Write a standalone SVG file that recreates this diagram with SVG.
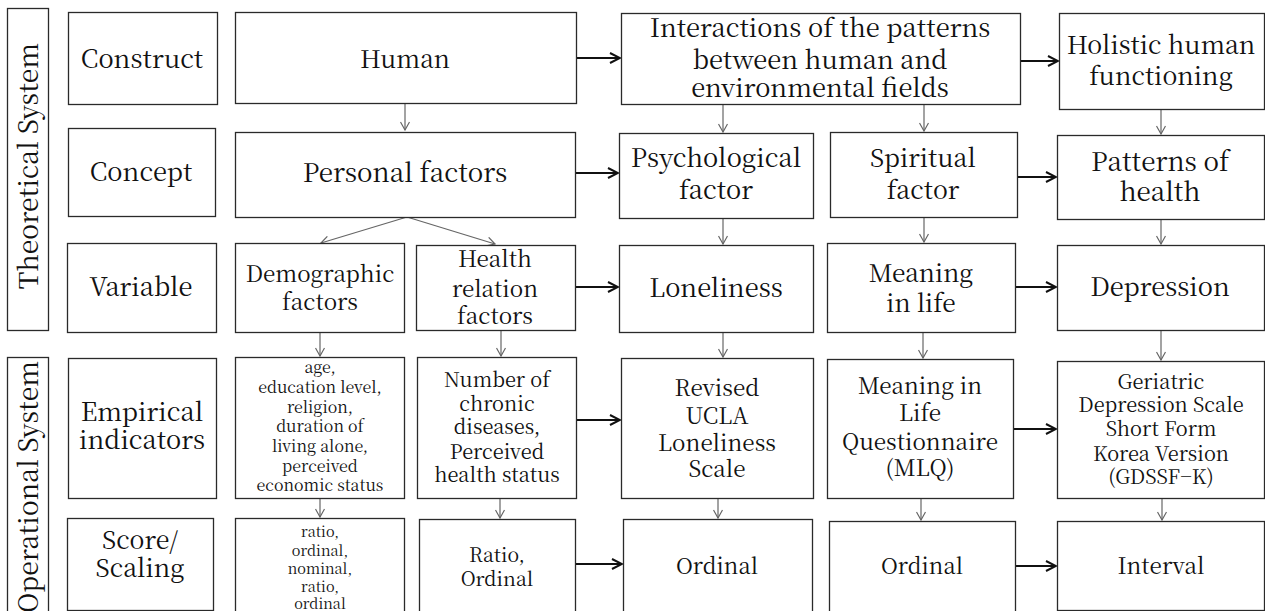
<svg xmlns="http://www.w3.org/2000/svg" width="1265" height="611" viewBox="0 0 1265 611">
<style>
  .box{fill:#fff;stroke:#2a2a2a;stroke-width:1.3}
  text{font-family:"Noto Serif CJK KR","Liberation Serif",serif;fill:#111;text-anchor:middle}
  .thick{stroke:#111;stroke-width:2.2;fill:none;marker-end:url(#ah)}
  .thin{stroke:#666;stroke-width:1.2;fill:none;marker-end:url(#at)}
</style>
<defs>
  <marker id="ah" markerUnits="userSpaceOnUse" viewBox="0 0 12 12" refX="11" refY="6" markerWidth="12" markerHeight="12" orient="auto">
    <path d="M1,1 L11,6 L1,11" fill="none" stroke="#111" stroke-width="2"/>
  </marker>
  <marker id="at" markerUnits="userSpaceOnUse" viewBox="0 0 10 10" refX="9" refY="5" markerWidth="10" markerHeight="10" orient="auto">
    <path d="M1,0.5 L9,5 L1,9.5" fill="none" stroke="#666" stroke-width="1.2"/>
  </marker>
</defs>
<rect width="1265" height="611" fill="#fff"/>

<g id="connectors">
  <line class="thick" x1="576" y1="58" x2="620" y2="58"/>
  <line class="thick" x1="1020" y1="61" x2="1058" y2="61"/>
  <line class="thick" x1="575" y1="173" x2="618" y2="173"/>
  <line class="thick" x1="1017" y1="177" x2="1056" y2="177"/>
  <line class="thick" x1="575" y1="287" x2="618" y2="287"/>
  <line class="thick" x1="1015" y1="287" x2="1056" y2="287"/>
  <line class="thick" x1="576" y1="420" x2="620" y2="420"/>
  <line class="thick" x1="1013" y1="429" x2="1056" y2="429"/>
  <line class="thick" x1="575" y1="564" x2="622" y2="564"/>
  <line class="thick" x1="1015" y1="566" x2="1056" y2="566"/>

  <line class="thin" x1="405" y1="103" x2="405" y2="130"/>
  <line class="thin" x1="723" y1="104" x2="723" y2="132"/>
  <line class="thin" x1="924" y1="104" x2="924" y2="131"/>
  <line class="thin" x1="1161" y1="109" x2="1161" y2="134"/>
  <line class="thin" x1="407" y1="217" x2="321" y2="243"/>
  <line class="thin" x1="407" y1="217" x2="495" y2="244"/>
  <line class="thin" x1="723" y1="218" x2="723" y2="244"/>
  <line class="thin" x1="924" y1="217" x2="924" y2="242"/>
  <line class="thin" x1="1161" y1="219" x2="1161" y2="244"/>
  <line class="thin" x1="320" y1="332" x2="320" y2="356"/>
  <line class="thin" x1="501" y1="330" x2="501" y2="356"/>
  <line class="thin" x1="723" y1="332" x2="723" y2="357"/>
  <line class="thin" x1="923" y1="332" x2="923" y2="358"/>
  <line class="thin" x1="1161" y1="330" x2="1161" y2="360"/>
  <line class="thin" x1="320" y1="498" x2="320" y2="517"/>
  <line class="thin" x1="500" y1="498" x2="500" y2="518"/>
  <line class="thin" x1="718" y1="498" x2="718" y2="518"/>
  <line class="thin" x1="921" y1="498" x2="921" y2="520"/>
  <line class="thin" x1="1162" y1="498" x2="1162" y2="520"/>
</g>

<g id="theoretical-system">
  <rect class="box" x="7.5" y="8.5" width="41" height="322"/>
  <text font-size="26.5" transform="translate(38,166) rotate(-90)">Theoretical System</text>
</g>
<g id="operational-system">
  <rect class="box" x="7.5" y="357.5" width="41" height="270"/>
  <text font-size="26.5" transform="translate(38,487) rotate(-90)">Operational System</text>
</g>

<g id="construct">
  <rect class="box" x="68.5" y="12.5" width="149" height="92"/>
  <text font-size="25.5" x="142" y="68">Construct</text>
</g>
<g id="concept">
  <rect class="box" x="68.5" y="128.5" width="147" height="88"/>
  <text font-size="25.5" x="141" y="181">Concept</text>
</g>
<g id="variable">
  <rect class="box" x="67.5" y="243.5" width="149" height="89"/>
  <text font-size="25.5" x="141" y="296">Variable</text>
</g>
<g id="empirical">
  <rect class="box" x="68.5" y="358.5" width="148" height="140"/>
  <text font-size="25.5" x="142" y="421">Empirical</text>
  <text font-size="25.5" x="142" y="449">indicators</text>
</g>
<g id="score">
  <rect class="box" x="67.5" y="518.5" width="146" height="92"/>
  <text font-size="25" x="140" y="549">Score/</text>
  <text font-size="25" x="140" y="577">Scaling</text>
</g>

<g id="human">
  <rect class="box" x="235.5" y="12.5" width="341" height="91"/>
  <text font-size="24.5" x="405" y="68">Human</text>
</g>
<g id="interactions">
  <rect class="box" x="621.5" y="13.5" width="399" height="91"/>
  <text font-size="25.5" x="820" y="37">Interactions of the patterns</text>
  <text font-size="25.5" x="820" y="69">between human and</text>
  <text font-size="25.5" x="820" y="97">environmental fields</text>
</g>
<g id="holistic">
  <rect class="box" x="1059.5" y="13.5" width="205" height="96"/>
  <text font-size="25" x="1161" y="54">Holistic human</text>
  <text font-size="25" x="1161" y="85">functioning</text>
</g>

<g id="personal">
  <rect class="box" x="235.5" y="132.5" width="340" height="85"/>
  <text font-size="26" x="405" y="182">Personal factors</text>
</g>
<g id="psychological">
  <rect class="box" x="619.5" y="133.5" width="194" height="85"/>
  <text font-size="25.5" x="716" y="167">Psychological</text>
  <text font-size="25.5" x="716" y="199">factor</text>
</g>
<g id="spiritual">
  <rect class="box" x="830.5" y="132.5" width="187" height="85"/>
  <text font-size="25" x="923" y="167">Spiritual</text>
  <text font-size="25" x="923" y="199">factor</text>
</g>
<g id="patterns">
  <rect class="box" x="1057.5" y="135.5" width="207" height="84"/>
  <text font-size="26" x="1160" y="171">Patterns of</text>
  <text font-size="26" x="1160" y="201">health</text>
</g>

<g id="demographic">
  <rect class="box" x="235.5" y="243.5" width="169" height="89"/>
  <text font-size="22.5" x="320" y="282">Demographic</text>
  <text font-size="22.5" x="320" y="310">factors</text>
</g>
<g id="health-relation">
  <rect class="box" x="416.5" y="245.5" width="159" height="85"/>
  <text font-size="22.5" x="495" y="267">Health</text>
  <text font-size="22.5" x="495" y="297">relation</text>
  <text font-size="22.5" x="495" y="324">factors</text>
</g>
<g id="loneliness">
  <rect class="box" x="619.5" y="245.5" width="194" height="87"/>
  <text font-size="25.5" x="716" y="297">Loneliness</text>
</g>
<g id="meaning">
  <rect class="box" x="827.5" y="243.5" width="188" height="89"/>
  <text font-size="24.5" x="921" y="282">Meaning</text>
  <text font-size="24.5" x="921" y="312">in life</text>
</g>
<g id="depression">
  <rect class="box" x="1057.5" y="245.5" width="207" height="85"/>
  <text font-size="25.5" x="1160" y="296">Depression</text>
</g>

<g id="demographic-indicators">
  <rect class="box" x="235.5" y="357.5" width="169" height="141"/>
  <text font-size="16" x="320" y="373">age,</text>
  <text font-size="16" x="320" y="393">education level,</text>
  <text font-size="16" x="320" y="412.5">religion,</text>
  <text font-size="16" x="320" y="432">duration of</text>
  <text font-size="16" x="320" y="452">living alone,</text>
  <text font-size="16" x="320" y="471.5">perceived</text>
  <text font-size="16" x="320" y="491">economic status</text>
</g>
<g id="health-indicators">
  <rect class="box" x="417.5" y="357.5" width="159" height="141"/>
  <text font-size="20" x="497" y="387">Number of</text>
  <text font-size="20" x="497" y="411">chronic</text>
  <text font-size="20" x="497" y="434">diseases,</text>
  <text font-size="20" x="497" y="459">Perceived</text>
  <text font-size="20" x="497" y="482">health status</text>
</g>
<g id="ucla">
  <rect class="box" x="621.5" y="358.5" width="192" height="140"/>
  <text font-size="22.5" x="717" y="396">Revised</text>
  <text font-size="22.5" x="717" y="424">UCLA</text>
  <text font-size="22.5" x="717" y="451">Loneliness</text>
  <text font-size="22.5" x="717" y="477">Scale</text>
</g>
<g id="mlq">
  <rect class="box" x="827.5" y="359.5" width="186" height="139"/>
  <text font-size="22.5" x="920" y="394">Meaning in</text>
  <text font-size="22.5" x="920" y="421">Life</text>
  <text font-size="22.5" x="920" y="450">Questionnaire</text>
  <text font-size="22.5" x="920" y="476">(MLQ)</text>
</g>
<g id="gdssf">
  <rect class="box" x="1057.5" y="361.5" width="207" height="137"/>
  <text font-size="20" x="1161" y="389">Geriatric</text>
  <text font-size="20" x="1161" y="412">Depression Scale</text>
  <text font-size="20" x="1161" y="436">Short Form</text>
  <text font-size="20" x="1161" y="461">Korea Version</text>
  <text font-size="20" x="1161" y="484">(GDSSF−K)</text>
</g>

<g id="demographic-scaling">
  <rect class="box" x="235.5" y="518.5" width="169" height="110"/>
  <text font-size="14.5" x="320" y="537">ratio,</text>
  <text font-size="14.5" x="320" y="555.5">ordinal,</text>
  <text font-size="14.5" x="320" y="574">nominal,</text>
  <text font-size="14.5" x="320" y="592">ratio,</text>
  <text font-size="14.5" x="320" y="609">ordinal</text>
</g>
<g id="health-scaling">
  <rect class="box" x="419.5" y="519.5" width="156" height="110"/>
  <text font-size="19.5" x="497" y="562">Ratio,</text>
  <text font-size="19.5" x="497" y="586">Ordinal</text>
</g>
<g id="ordinal-1">
  <rect class="box" x="623.5" y="519.5" width="189" height="110"/>
  <text font-size="22" x="717" y="574">Ordinal</text>
</g>
<g id="ordinal-2">
  <rect class="box" x="829.5" y="521.5" width="186" height="110"/>
  <text font-size="22" x="922" y="574">Ordinal</text>
</g>
<g id="interval">
  <rect class="box" x="1057.5" y="521.5" width="207" height="89"/>
  <text font-size="22.5" x="1161" y="574">Interval</text>
</g>
</svg>
